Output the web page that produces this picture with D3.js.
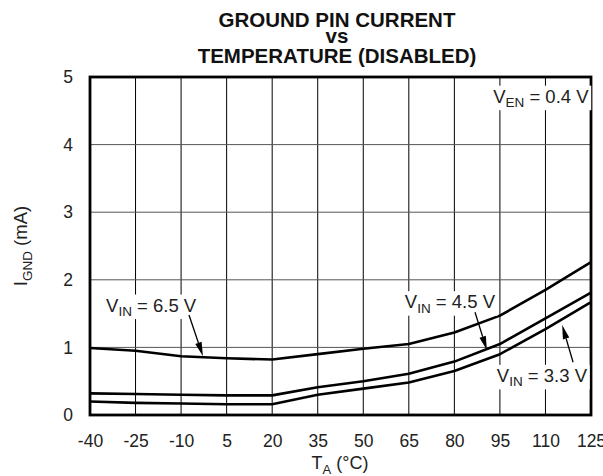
<!DOCTYPE html>
<html>
<head>
<meta charset="utf-8">
<script src="https://cdn.jsdelivr.net/npm/d3@7"></script>
<style>
  html, body { margin: 0; padding: 0; background: #fff; }
  svg { display: block; font-family: "Liberation Sans", Arial, Helvetica, sans-serif; }
</style>
</head>
<body>
<svg id="chart" width="603" height="476"></svg>
<script>
// ---- data ----
const temps = [-40, -25, -10, 5, 20, 35, 50, 65, 80, 95, 110, 125];
const vin65 = [0.99, 0.95, 0.87, 0.84, 0.82, 0.90, 0.98, 1.05, 1.22, 1.47, 1.85, 2.26];
const vin45 = [0.32, 0.31, 0.30, 0.29, 0.29, 0.41, 0.50, 0.61, 0.79, 1.05, 1.43, 1.81];
const vin33 = [0.20, 0.18, 0.17, 0.16, 0.16, 0.30, 0.39, 0.48, 0.65, 0.90, 1.27, 1.67];
const xTicks = [-40, -25, -10, 5, 20, 35, 50, 65, 80, 95, 110, 125];
const yTicks = [0, 1, 2, 3, 4, 5];
const titleLines = ["GROUND PIN CURRENT", "vs", "TEMPERATURE (DISABLED)"];

const svg = d3.select("#chart");
const pL = 90, pR = 591, pT = 77, pB = 415;
const x = d3.scaleLinear().domain([-40, 125]).range([pL, pR]);
const y = d3.scaleLinear().domain([0, 5]).range([pB, pT]);

// grid
const g = svg.append("g");
g.selectAll("line.vx").data(xTicks.slice(1, -1)).join("line")
  .attr("x1", d => x(d)).attr("x2", d => x(d)).attr("y1", pT).attr("y2", pB)
  .attr("stroke", "#000").attr("stroke-width", 1);
g.selectAll("line.hy").data(yTicks.slice(1, -1)).join("line")
  .attr("x1", pL).attr("x2", pR).attr("y1", d => y(d)).attr("y2", d => y(d))
  .attr("stroke", "#555").attr("stroke-width", 1);

// axes tick labels
const xAxis = d3.axisBottom(x).tickValues(xTicks).tickFormat(d => String(d)).tickSize(0).tickPadding(20);
const xa = svg.append("g").attr("transform", `translate(0,${pB})`).call(xAxis);
xa.select(".domain").remove();
xa.selectAll("text").attr("font-size", 17.5).attr("fill", "#222").attr("font-family", "Liberation Sans, Arial, sans-serif");

const yAxis = d3.axisLeft(y).tickValues(yTicks).tickFormat(d => String(d)).tickSize(0).tickPadding(17);
const ya = svg.append("g").attr("transform", `translate(${pL},0)`).call(yAxis);
ya.select(".domain").remove();
ya.selectAll("text").attr("font-size", 17.5).attr("fill", "#222").attr("font-family", "Liberation Sans, Arial, sans-serif");

// curves
const line = d3.line().x((d, i) => x(temps[i])).y(d => y(d));
[vin65, vin45, vin33].forEach(s => {
  svg.append("path").attr("d", line(s)).attr("fill", "none")
    .attr("stroke", "#000").attr("stroke-width", 2.6).attr("stroke-linejoin", "round");
});

// border
svg.append("rect").attr("x", pL).attr("y", pT).attr("width", pR - pL).attr("height", pB - pT)
  .attr("fill", "none").attr("stroke", "#000").attr("stroke-width", 2.8);

// annotations
function label(tx, ty, main, sub, rest, anchor) {
  const t = svg.append("text").attr("x", x(tx)).attr("y", y(ty)).attr("font-size", 18.5)
    .attr("fill", "#222").attr("text-anchor", anchor || "start");
  t.append("tspan").text(main);
  t.append("tspan").attr("font-size", 13.5).attr("dy", 4.5).text(sub);
  t.append("tspan").attr("dy", -4.5).text(rest);
  const bb = t.node().getBBox();
  svg.insert("rect", () => t.node()).attr("x", bb.x - 2).attr("y", bb.y)
    .attr("width", bb.width + 4).attr("height", bb.height).attr("fill", "#fff");
}
function arrow(x1, y1, x2, y2) {
  const X1 = x(x1), Y1 = y(y1), X2 = x(x2), Y2 = y(y2);
  const ang = Math.atan2(Y2 - Y1, X2 - X1);
  const L = 14, W = 3.3;
  const bx = X2 - L * Math.cos(ang), by = Y2 - L * Math.sin(ang);
  svg.append("line").attr("x1", X1).attr("y1", Y1).attr("x2", bx).attr("y2", by)
    .attr("stroke", "#000").attr("stroke-width", 1.3);
  const px = -Math.sin(ang) * W, py = Math.cos(ang) * W;
  svg.append("path").attr("d", `M${X2},${Y2}L${bx + px},${by + py}L${bx - px},${by - py}Z`).attr("fill", "#000");
}
label(-34.7, 1.53, "V", "IN", " = 6.5 V");
arrow(-7.4, 1.48, -2.8, 0.87);
label(63.7, 1.58, "V", "IN", " = 4.5 V");
arrow(86.8, 1.52, 90.7, 0.96);
label(94.0, 0.49, "V", "IN", " = 3.3 V");
arrow(119.1, 0.78, 115.5, 1.33);
label(124.2, 4.62, "V", "EN", " = 0.4 V", "end");

// title
const titleY = [27, 43, 63];
svg.append("g").selectAll("text").data(titleLines).join("text")
  .attr("x", 337).attr("y", (d, i) => titleY[i])
  .attr("text-anchor", "middle").attr("font-weight", "bold").attr("font-size", 20.5)
  .attr("fill", "#111").text(d => d);

// axis titles
const yl = svg.append("text").attr("transform", `translate(27,${(pT + pB) / 2}) rotate(-90)`)
  .attr("text-anchor", "middle").attr("font-size", 18.5).attr("fill", "#222");
yl.append("tspan").text("I");
yl.append("tspan").attr("font-size", 13.5).attr("dy", 4.5).text("GND");
yl.append("tspan").attr("dy", -4.5).text(" (mA)");

const xl = svg.append("text").attr("x", 340).attr("y", 469)
  .attr("text-anchor", "middle").attr("font-size", 18).attr("fill", "#222");
xl.append("tspan").text("T");
xl.append("tspan").attr("font-size", 13).attr("dy", 4.5).text("A");
xl.append("tspan").attr("dy", -4.5).text(" (°C)");
</script>
</body>
</html>
